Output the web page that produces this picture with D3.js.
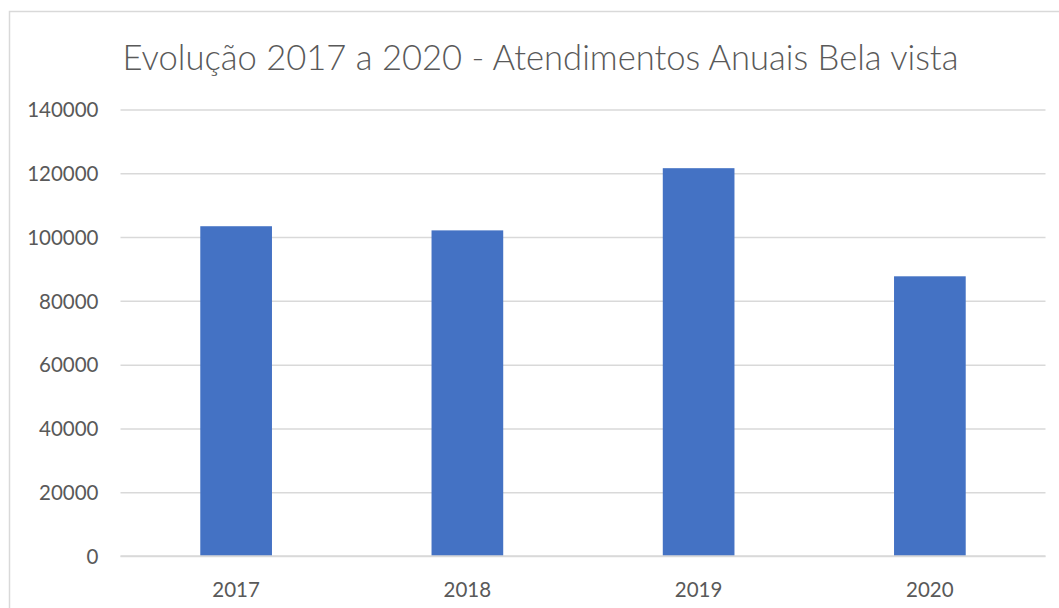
<!DOCTYPE html>
<html>
<head>
<meta charset="utf-8">
<script src="https://cdn.jsdelivr.net/npm/d3@7"></script>
<style>
  html, body { margin: 0; padding: 0; background: #fff; }
  svg { display: block; }
  text { font-family: Lato, "Open Sans", sans-serif; }
</style>
</head>
<body>
<svg id="chart" width="1059" height="608"></svg>
<script>
const title = "Evolução 2017 a 2020 - Atendimentos Anuais Bela vista";
const categories = ["2017", "2018", "2019", "2020"];
const values = [103400, 102100, 121600, 87700];
const yTicks = [0, 20000, 40000, 60000, 80000, 100000, 120000, 140000];

const svg = d3.select("#chart");
const W = 1059, H = 608;
const plot = { left: 120.5, right: 1045.5, top: 109.5, bottom: 556 };

// chart border
svg.append("rect")
  .attr("x", 9.5).attr("y", 11.5)
  .attr("width", W + 20).attr("height", H + 20)
  .attr("fill", "#fff").attr("stroke", "#d9d9d9").attr("stroke-width", 1.5);

const x = d3.scaleBand()
  .domain(categories)
  .range([plot.left, plot.right])
  .paddingInner(0.69)
  .paddingOuter(0.345);

const y = d3.scaleLinear()
  .domain([0, 140000])
  .range([plot.bottom, plot.top]);

// gridlines
const yAxis = d3.axisLeft(y)
  .tickValues(yTicks)
  .tickSize(-(plot.right - plot.left))
  .tickPadding(22)
  .tickFormat(d3.format("d"));

const gy = svg.append("g")
  .attr("transform", `translate(${plot.left},0)`)
  .call(yAxis);
gy.select(".domain").remove();
gy.selectAll(".tick line").attr("stroke", "#d9d9d9").attr("stroke-width", 1.5);
gy.selectAll(".tick text")
  .attr("fill", "#595959")
  .style("font-size", "20.5px")
  .attr("dy", "0.35em");

// bars
svg.append("g").selectAll("rect")
  .data(values)
  .join("rect")
  .attr("x", (d, i) => x(categories[i]))
  .attr("width", x.bandwidth())
  .attr("y", d => y(d))
  .attr("height", d => y(0) - y(d))
  .attr("fill", "#4472C4");

// x axis
const xAxis = d3.axisBottom(x).tickSize(0).tickPadding(26);
const gx = svg.append("g")
  .attr("transform", `translate(0,${plot.bottom})`)
  .call(xAxis);
gx.select(".domain").remove();
gx.selectAll(".tick text")
  .attr("fill", "#595959")
  .style("font-size", "20.5px");

// baseline over bars
svg.append("line")
  .attr("x1", plot.left).attr("x2", plot.right)
  .attr("y1", y(0)).attr("y2", y(0))
  .attr("stroke", "#d9d9d9").attr("stroke-width", 1.5);

// title
svg.append("text")
  .attr("x", (123 + 958) / 2)
  .attr("y", 70)
  .attr("text-anchor", "middle")
  .attr("fill", "#595959")
  .style("font-size", "34.6px")
  .style("font-weight", "300")
  .text(title);
</script>
</body>
</html>
